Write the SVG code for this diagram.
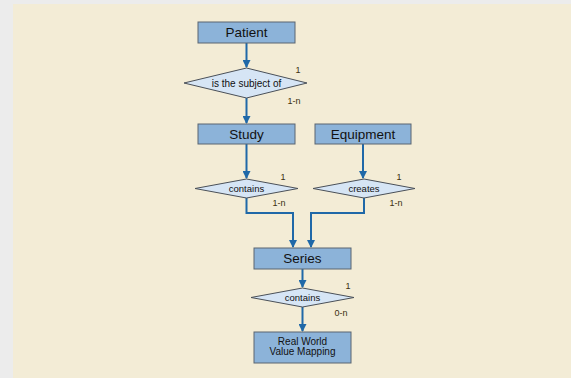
<svg xmlns="http://www.w3.org/2000/svg" width="571" height="378" viewBox="0 0 571 378">
<style>
.ent{fill:#8cb3d9;stroke:#5a6470;stroke-width:1}
.rel{fill:#d6e5f5;stroke:#4a5058;stroke-width:1}
.t{font-family:"Liberation Sans",Arial,sans-serif;fill:#111;text-anchor:middle}
.big{font-size:13.5px}
.sm{font-size:9.5px}
.md{font-size:10px}
.card{font-family:"Liberation Sans",Arial,sans-serif;font-size:9px;fill:#3a3010;text-anchor:middle}
.c{fill:none;stroke:#1f68a8;stroke-width:2}
</style>
<defs>
<marker id="ah" viewBox="0 0 8 8" refX="7" refY="4" markerWidth="4" markerHeight="4" orient="auto" markerUnits="strokeWidth">
<path d="M0,0 L8,4 L0,8 z" fill="#1f68a8"/>
</marker>
</defs>
<rect x="0" y="0" width="571" height="378" fill="#ececec"/>
<rect x="13" y="4" width="558" height="374" fill="#f3ecd6"/>
<g id="connectors">
<path class="c" d="M246.5,43 V67" marker-end="url(#ah)"/>
<path class="c" d="M246.5,98 V123" marker-end="url(#ah)"/>
<path class="c" d="M246.5,144 V178" marker-end="url(#ah)"/>
<path class="c" d="M363,144 V178" marker-end="url(#ah)"/>
<path class="c" d="M246.5,198 V213 H293 V247" marker-end="url(#ah)"/>
<path class="c" d="M364,198 V213 H311 V247" marker-end="url(#ah)"/>
<path class="c" d="M302.5,269 V287" marker-end="url(#ah)"/>
<path class="c" d="M302.5,307 V331" marker-end="url(#ah)"/>
</g>
<g id="patient">
<rect class="ent" x="198" y="22" width="97" height="21"/>
<text class="t big" x="246.5" y="37">Patient</text>
</g>
<g id="rel-subject">
<polygon class="rel" points="184,83 246.5,68 307,83 246.5,98"/>
<text class="t md" x="246.5" y="86.5">is the subject of</text>
<text class="card" x="298" y="73">1</text>
<text class="card" x="294" y="104">1-n</text>
</g>
<g id="study">
<rect class="ent" x="198" y="124" width="97" height="20"/>
<text class="t big" x="246.5" y="138.5">Study</text>
</g>
<g id="equipment">
<rect class="ent" x="315" y="124" width="96" height="20"/>
<text class="t big" x="363" y="138.5">Equipment</text>
</g>
<g id="rel-contains1">
<polygon class="rel" points="195,188.5 246.5,179 298,188.5 246.5,198"/>
<text class="t sm" x="246.5" y="191.5">contains</text>
<text class="card" x="283" y="180">1</text>
<text class="card" x="279" y="206">1-n</text>
</g>
<g id="rel-creates">
<polygon class="rel" points="313,188.5 364,179 415,188.5 364,198"/>
<text class="t sm" x="364" y="191.5">creates</text>
<text class="card" x="399" y="180">1</text>
<text class="card" x="396" y="206">1-n</text>
</g>
<g id="series">
<rect class="ent" x="254" y="248" width="97" height="21"/>
<text class="t big" x="302.5" y="263">Series</text>
</g>
<g id="rel-contains2">
<polygon class="rel" points="251,297.5 302.5,288 354,297.5 302.5,307"/>
<text class="t sm" x="302.5" y="300.5">contains</text>
<text class="card" x="348" y="289">1</text>
<text class="card" x="341" y="316">0-n</text>
</g>
<g id="rwvm">
<rect class="ent" x="254" y="332" width="97" height="31"/>
<text class="t md" x="302.5" y="345">Real World</text>
<text class="t md" x="302.5" y="355">Value Mapping</text>
</g>
</svg>
